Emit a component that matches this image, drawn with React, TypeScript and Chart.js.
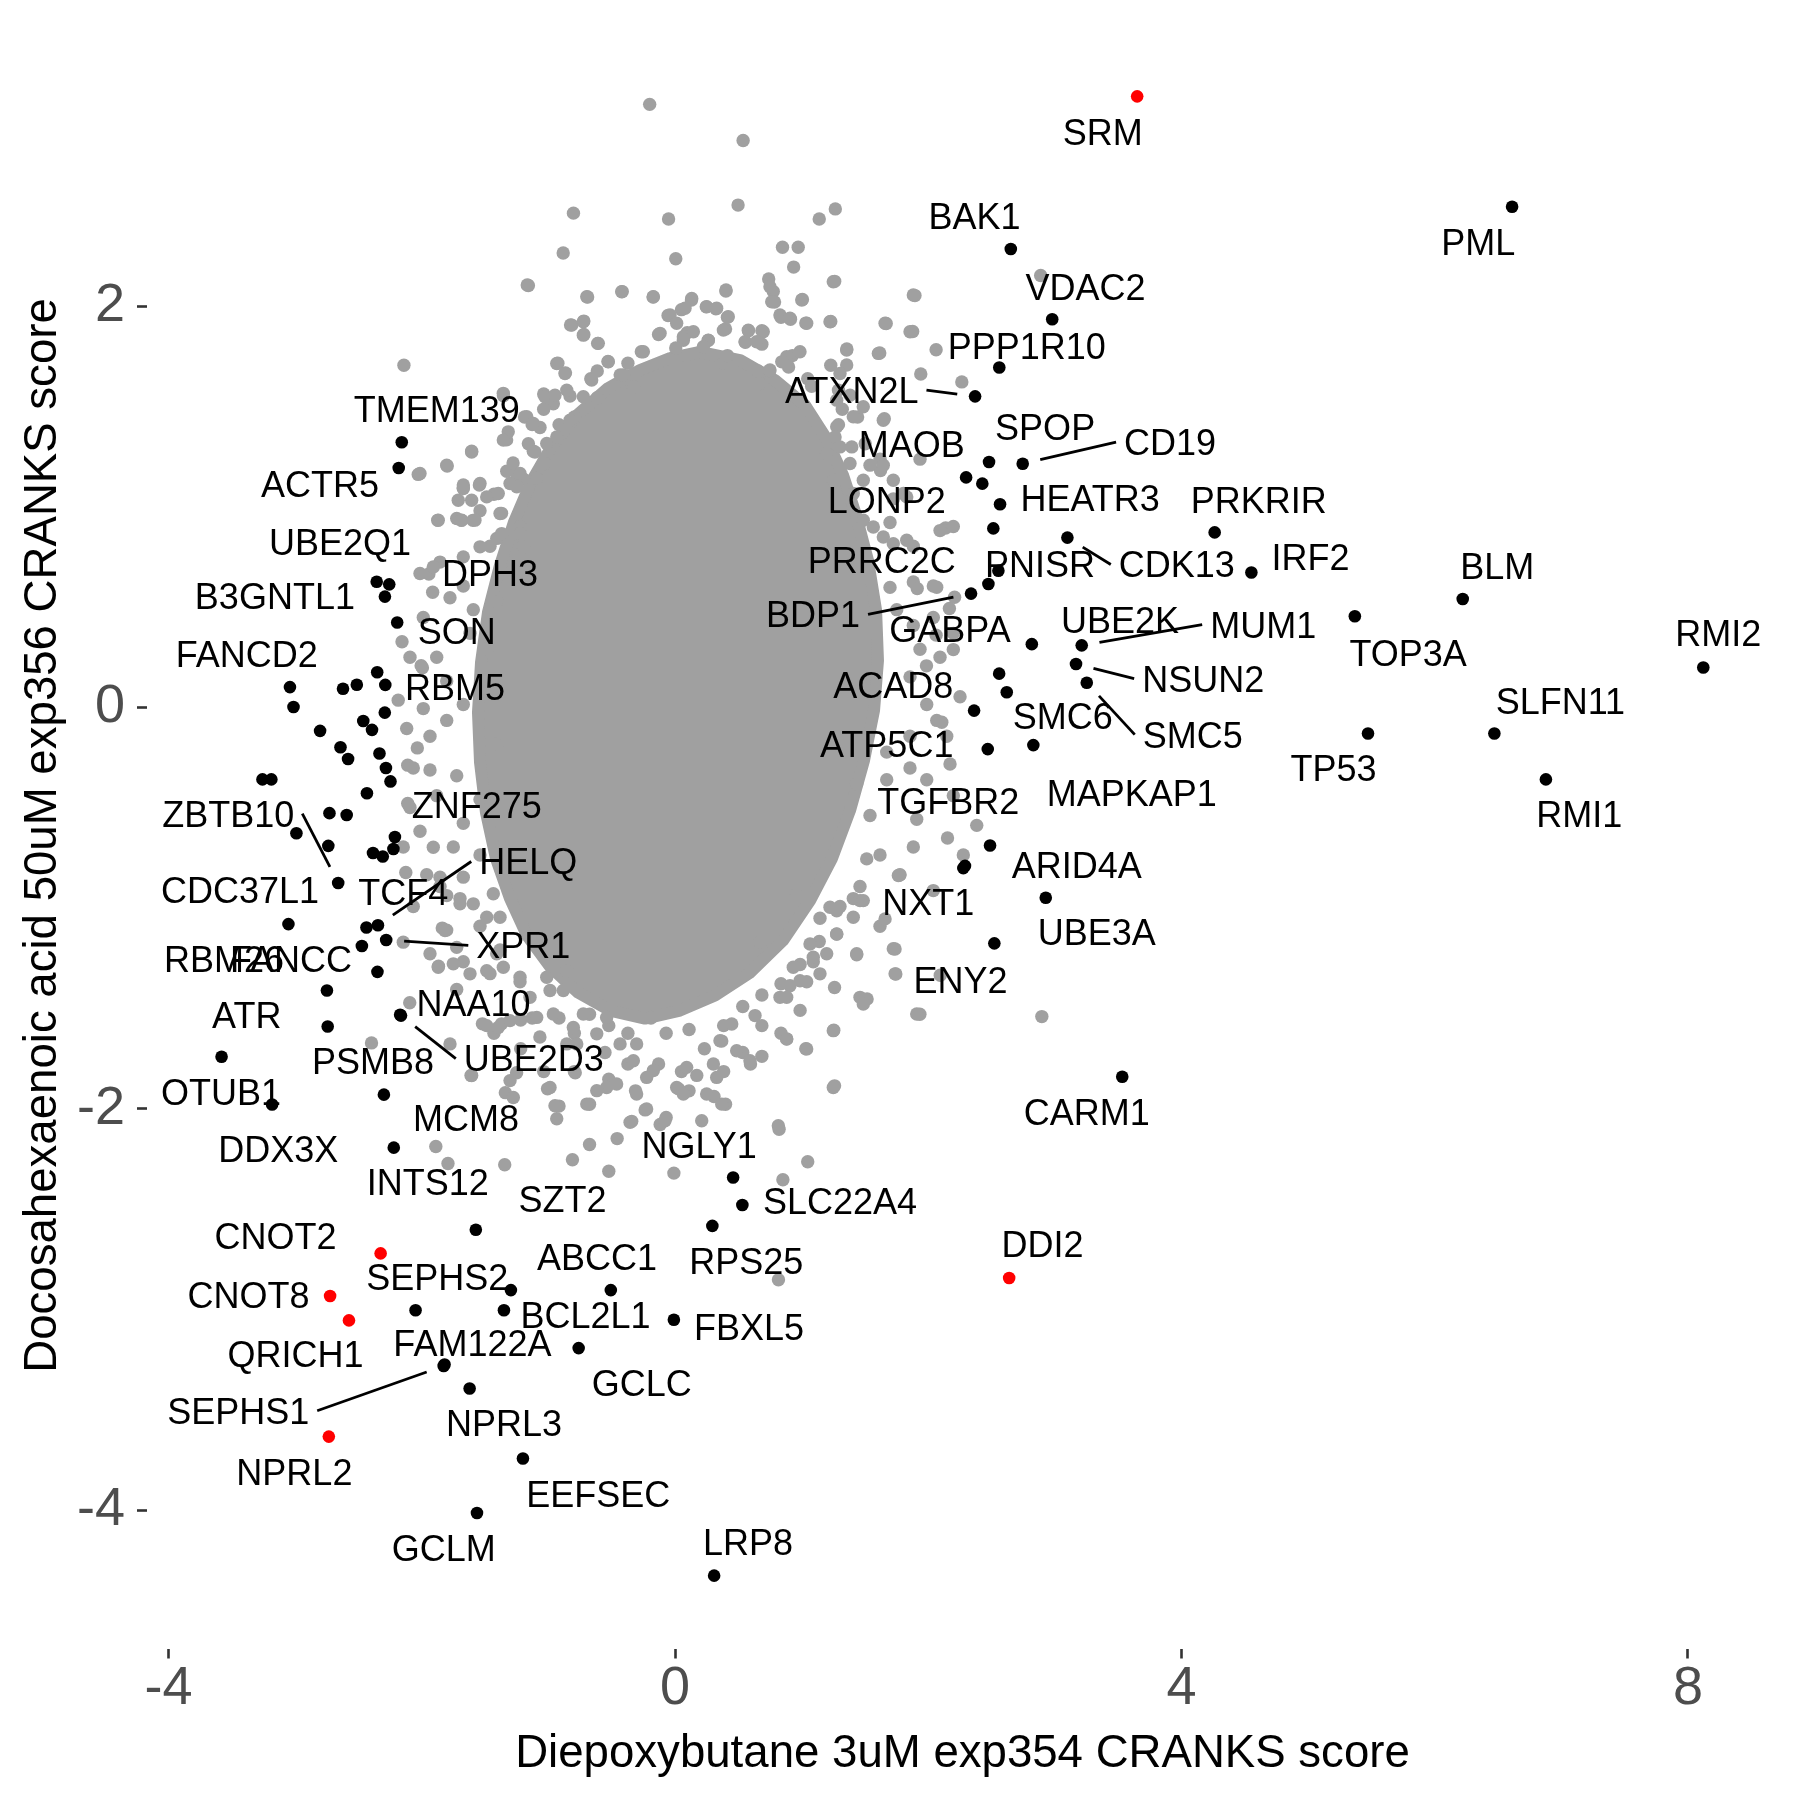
import React, { useEffect, useRef } from 'react';
import { Chart, registerables } from 'chart.js';

Chart.register(...registerables);

const FONT = '"Liberation Sans", Arial, Helvetica, sans-serif';

// ---------- axis ----------
const xTicks = [-4, 0, 4, 8];
const yTicks = [-4, -2, 0, 2];
const xTitle = 'Diepoxybutane 3uM exp354 CRANKS score';
const yTitle = 'Docosahexaenoic acid 50uM exp356 CRANKS score';

// ---------- labelled hits ----------
const hitNames = [
  'SRM', 'PML', 'BAK1', 'VDAC2', 'PPP1R10', 'ATXN2L', 'SPOP', 'CD19', 'MAOB', 'LONP2',
  'HEATR3', 'PRKRIR', 'CDK13', 'IRF2', 'PNISR', 'PRRC2C', 'BDP1', 'GABPA', 'UBE2K', 'MUM1',
  'NSUN2', 'SMC5', 'ACAD8', 'SMC6', 'ATP5C1', 'MAPKAP1', 'TGFBR2', 'ARID4A', 'NXT1', 'UBE3A',
  'ENY2', 'CARM1', 'DDI2', 'TOP3A', 'BLM', 'RMI2', 'SLFN11', 'TP53', 'RMI1', 'TMEM139',
  'ACTR5', 'UBE2Q1', 'B3GNTL1', 'DPH3', 'SON', 'FANCD2', 'RBM5', 'ZNF275', 'ZBTB10', 'CDC37L1',
  'TCF4', 'HELQ', 'XPR1', 'RBM26', 'FANCC', 'ATR', 'PSMB8', 'NAA10', 'UBE2D3', 'OTUB1',
  'MCM8', 'DDX3X', 'INTS12', 'SZT2', 'SEPHS2', 'ABCC1', 'BCL2L1', 'FAM122A', 'GCLC', 'CNOT2',
  'CNOT8', 'QRICH1', 'FBXL5', 'SEPHS1', 'NPRL3', 'NPRL2', 'EEFSEC', 'GCLM', 'LRP8', 'NGLY1',
  'SLC22A4', 'RPS25',
];
const hitX = [
  3.65, 6.611, 2.652, 2.979, 2.561, 2.37, 2.48, 2.746, 2.299, 2.514,
  2.567, 4.262, 3.099, 4.552, 2.554, 2.475, 2.338, 2.56, 2.818, 3.212,
  3.167, 3.252, 2.362, 2.62, 2.47, 2.83, 2.277, 2.488, 2.29, 2.928,
  2.522, 3.532, 2.639, 5.369, 6.221, 8.121, 6.471, 5.473, 6.878, -2.158,
  -2.182, -2.356, -2.291, -2.257, -2.194, -3.041, -2.288, -2.212, -2.66, -3.053,
  -2.437, -2.346, -2.281, -2.749, -2.473, -3.581, -2.743, -2.171, -2.164, -3.182,
  -2.299, -2.221, -1.573, -1.296, -2.049, -0.507, -1.351, -1.82, -0.761, -2.325,
  -2.724, -2.575, -0.009, -1.827, -1.622, -2.734, -1.201, -1.564, 0.309, 0.459,
  0.532, 0.295,
];
const hitY = [
  3.045, 2.495, 2.284, 1.934, 1.694, 1.55, 1.223, 1.214, 1.146, 0.892,
  1.012, 0.872, 0.846, 0.672, 0.681, 0.615, 0.567, 0.168, 0.315, 0.309,
  0.216, 0.123, -0.016, 0.075, -0.208, -0.188, -0.801, -0.688, -0.79, -0.949,
  -1.176, -1.841, -2.844, 0.454, 0.54, 0.199, -0.13, -0.13, -0.359, 1.321,
  1.193, 0.626, 0.552, 0.613, 0.423, 0.101, 0.112, -0.646, -0.875, -1.08,
  -1.097, -1.086, -1.159, -1.411, -1.189, -1.741, -1.59, -1.532, -1.536, -1.979,
  -1.93, -2.194, -2.603, -2.904, -3.004, -2.904, -3.004, -3.275, -3.193, -2.721,
  -2.933, -3.055, -3.052, -3.282, -3.394, -3.634, -3.743, -4.015, -4.327, -2.343,
  -2.48, -2.584,
];
// highlighted (red) hits
const redHits = ['SRM', 'DDI2', 'CNOT2', 'CNOT8', 'QRICH1', 'NPRL2'];

// repelled label anchors (data units) and which labels carry a leader segment
const labelX = [
  3.378, 6.343, 2.366, 3.242, 2.778, 1.396, 2.923, 3.91, 1.87, 1.672,
  3.278, 4.611, 3.963, 5.019, 2.883, 1.633, 1.09, 2.172, 3.515, 4.645,
  4.171, 4.089, 1.724, 3.062, 1.672, 3.607, 2.159, 3.173, 2.001, 3.331,
  2.254, 3.251, 2.902, 5.79, 6.493, 8.239, 6.992, 5.201, 7.141, -1.882,
  -2.804, -2.646, -3.16, -1.461, -1.724, -3.383, -1.738, -1.566, -3.528, -3.436,
  -2.146, -1.159, -1.198, -3.562, -3.033, -3.382, -2.385, -1.591, -1.115, -3.586,
  -1.65, -3.133, -1.953, -0.888, -1.877, -0.616, -0.707, -1.6, -0.262, -3.156,
  -3.368, -2.997, 0.585, -3.45, -1.351, -3.006, -0.607, -1.827, 0.577, 0.191,
  1.303, 0.563,
];
const labelY = [
  2.868, 2.318, 2.447, 2.095, 1.798, 1.581, 1.395, 1.322, 1.312, 1.032,
  1.043, 1.035, 0.712, 0.749, 0.712, 0.733, 0.464, 0.392, 0.433, 0.412,
  0.143, -0.136, 0.112, -0.043, -0.184, -0.425, -0.467, -0.787, -0.969, -1.118,
  -1.358, -2.016, -2.675, 0.271, 0.706, 0.368, 0.033, -0.302, -0.534, 1.486,
  1.114, 0.824, 0.556, 0.669, 0.38, 0.266, 0.101, -0.489, -0.53, -0.913,
  -0.923, -0.768, -1.186, -1.254, -1.254, -1.534, -1.764, -1.472, -1.75, -1.916,
  -2.045, -2.2, -2.366, -2.451, -2.838, -2.738, -3.03, -3.167, -3.368, -2.637,
  -2.927, -3.224, -3.087, -3.505, -3.568, -3.811, -3.92, -4.192, -4.161, -2.18,
  -2.459, -2.761,
];
const segmentLabels = ['ATXN2L', 'CD19', 'CDK13', 'BDP1', 'MUM1', 'NSUN2', 'SMC5', 'ZBTB10', 'HELQ', 'XPR1', 'UBE2D3', 'SEPHS1'];

// ---------- unlabelled hits ----------
const otherHitX = [
  2.427, -3.013, -2.622, -2.513, -2.352, -2.292, -2.462, -2.393, -2.803, -2.642,
  -2.582, -2.334, -2.283, -2.247, -3.258, -3.188, -2.433, -2.729, -2.593, -2.99,
  -2.738, -2.385, -2.308, -2.224, -2.35,
];
const otherHitY = [
  1.115, 0.002, 0.093, 0.113, 0.175, -0.026, -0.068, -0.112, -0.117, -0.199,
  -0.257, -0.23, -0.302, -0.369, -0.359, -0.359, -0.428, -0.527, -0.536, -0.627,
  -0.69, -0.726, -0.743, -0.706, -1.318,
];

// ---------- background genes: outline of the saturated core + scattered genes ----------
const coreOutlineX = [
  0.197, 0.513, 0.79, 1.027, 1.193, 1.327, 1.43, 1.524, 1.588, 1.603,
  1.572, 1.493, 1.382, 1.24, 1.066, 0.853, 0.592, 0.316, 0.039, -0.237,
  -0.513, -0.766, -0.987, -1.169, -1.303, -1.414, -1.493, -1.54, -1.556, -1.532,
  -1.477, -1.382, -1.272, -1.137, -0.972, -0.766, -0.529, -0.276, -0.039, 0.197,
];
const coreOutlineY = [
  1.771, 1.731, 1.631, 1.506, 1.342, 1.157, 0.958, 0.733, 0.484, 0.234,
  -0.015, -0.264, -0.514, -0.753, -0.963, -1.162, -1.322, -1.436, -1.511, -1.551,
  -1.511, -1.421, -1.292, -1.137, -0.953, -0.753, -0.524, -0.274, -0.025, 0.224,
  0.474, 0.708, 0.923, 1.122, 1.302, 1.461, 1.591, 1.681, 1.741, 1.771,
];
const bgX = [
  -0.2, 0.538, 0.498, -0.802, -0.051, 1.266, 1.139, -0.883, 0.006, 0.849,
  0.973, 0.937, -1.158, 1.261, -0.69, -0.417, -0.173, 0.402, 0.74, 0.776,
  1.006, 1.895, 1.668, 1.877, 1.23, 1.033, 2.062, 1.941, 1.357, 1.617,
  -2.141, -0.825, -0.72, -0.72, -0.611, -0.529, -0.925, -0.865, -0.665, -1.606,
  -1.799, -2.028, -1.874, -1.687, -1.596, -1.672, -1.545, -1.43, -1.37, -1.944,
  -1.914, -2.156, -1.995, -1.355, -1.188, -1.33, -1.128, -1.249, -1.092, -1.007,
  1.653, 2.137, 1.698, 2.167, 2.062, 1.986, 1.26, 0.822, 1.048, 0.852,
  -0.009, -0.523, -0.81, -0.675, -0.457, -1.345, -1.793, -1.889, 1.934, 1.254,
  1.517, 1.744, 1.435, 1.738, 1.774, 2.152, 1.033, 0.882, 0.596, 0.369,
  0.399, 0.308, 0.111, 0.027, -0.07, -0.236, -0.342, -0.675, -0.916, -1.007,
  -1.067, -1.34, -1.611, -1.37, -1.219, -1.521, -2.095, -2.397, -1.868, -1.838,
  -2.126, -2.111, -2.035, -2.111, -2.186, -2.005, -1.329, -1.198, -1.119, -1.066,
  -0.961, -0.829, -1.777, -1.593, -2.093, -1.882, -2.119, -1.935, -1.803, -2.067,
  -1.935, -1.724, -2.093, -2.014, -2.146, -1.961, -1.698, -2.067, -1.803, -2.146,
  -1.672, -1.461, -1.224, -1.54, -1.751, -1.54, -1.408, -1.54, -1.487, -1.408,
  -1.277, -1.408, -1.224, 1.619, 1.935, 2.198, 2.093, 1.698, 1.882, 2.04,
  1.751, 1.935, 1.882, 2.093, 2.251, 1.988, 2.067, 1.856, 2.172, 1.856,
  1.672, 1.435, 1.54, 1.909, 2.383, 2.277, 1.777, 1.514, 1.408, 1.277,
  1.145, 1.461, 1.092, 0.908, 0.671, 0.961, 2.265, 2.067, 2.198, 2.107,
  1.461, 1.277, 2.888, 1.913, 2.208, 2.897, 2.095, 0.817, -0.788, -1.251,
  -0.934, -0.117, -0.13, -0.055, 0.051, 0.13, 0.247, 0.323, 0.414, 0.399,
  0.58, 0.686, 0.556, 0.686, 0.837, 0.912, 0.786, 0.096, 0.066, 0.263,
  -0.266, -0.433, 0.006, 0.384, 0.927, 0.897, 0.746, 1.048, 1.23, 1.291,
  -0.795, -1.037, -0.916, -0.614, 1.442, 1.291, -0.675, -0.523, -0.372, -0.19,
  -0.07, 0.111, 0.232, 0.384, 0.535, 0.686, 0.837, -0.13, -0.372, -0.553,
  -0.795, -0.916, -1.128, 0.535, 0.051, 0.988, 1.139,
  -1.672, -1.54, -1.724, -1.461, -1.856, -1.672, -1.988, -1.619, -1.803, -1.672,
  -1.988, -1.882, -1.672, -1.856, -1.54, -1.382, -1.935, -1.724,
  1.724, 1.882, 2.04, 2.198, 1.856, 2.146, 1.672, 1.988, 2.198, 1.882,
  1.619, 1.461, 1.303, 1.619, 1.198, 1.04, 0.829, 2.04,
  -1.43, -1.219, -1.037, -0.795, -0.523, -0.312, 0.172, 0.384, 0.686, 0.837,
  0.988, 0.686, 1.26,
  -0.614, -0.372, -0.855, -1.037, -1.158, -1.279, 1.079, 1.321, 1.502, 1.623,
  1.804, 0.414, 0.656,
];
const bgY = [
  3.005, 2.825, 2.503, 2.463, 2.434, 2.484, 2.434, 2.264, 2.236, 2.293,
  2.293, 2.194, 2.102, 2.123, 2.045, 2.072, 2.045, 2.075, 2.135, 2.072,
  2.033, 2.052, 1.913, 1.873, 1.923, 1.915, 1.782, 1.661, 1.786, 1.766,
  1.705, 1.906, 1.925, 1.858, 1.814, 1.724, 1.715, 1.667, 1.638, 1.276,
  1.203, 1.161, 0.932, 0.932, 0.932, 1.094, 1.108, 1.062, 0.967, 0.665,
  0.574, 0.327, 0.198, 1.553, 1.447, 1.333, 1.409, 1.161, 1.142, 1.543,
  1.438, 0.894, 0.598, 0.493, 0.36, 0.207, -1.886, -2.102, -2.264, -2.354,
  -2.321, -2.312, -2.254, -2.178, -2.149, -2.279, -2.273, -2.188, -1.529, -1.609,
  -1.453, -1.329, -1.233, -1.204, -0.836, -0.651, -1.701, -1.653, -1.777, -1.663,
  -1.978, -1.939, -1.911, -1.901, -2.044, -2.006, -2.063, -1.978, -1.987, -1.901,
  -1.643, -1.92, -1.834, -1.577, -1.558, -1.577, -1.472, -1.672, -1.29, -1.1,
  -0.823, -0.479, -0.202, -0.288, 0.036, 0.208, 1.177, 1.138, 1.276, 1.395,
  1.513, 1.552, 0.546, 0.487, 0.25, 0.25, -0.105, -0.144, -0.065, -0.302,
  -0.312, -0.341, -0.499, -0.617, -0.696, -0.834, -0.953, -0.992, -1.11, -1.17,
  -1.268, -1.327, -1.367, -0.736, -0.696, -0.459, -0.184, 0.053, 0.29, 0.527,
  0.684, 0.842, 0.901, 1.237, 1.237, 0.901, 0.881, 0.921, 0.625, 0.605,
  0.487, 0.29, 0.408, 0.25, 0.053, 0.014, -0.065, -0.144, -0.282, -0.302,
  -0.361, -0.381, -0.539, -0.558, -0.588, -0.736, -0.834, -0.755, -0.953, -1.13,
  -1.051, -1.445, -1.268, -1.387, -1.17, -0.933, 1.622, 0.599, 0.288, -0.074,
  -0.963, -1.014, 2.152, 0.592, 0.549, -1.541, -1.335, -2.852, -1.821, -1.821,
  -2.05, -2.079, 1.858, 1.953, 1.982, 2.03, 1.996, 1.986, 1.944, 1.886,
  1.877, 1.877, 1.819, 1.81, 1.944, 1.934, 2.02, 1.867, 1.829, 1.829,
  1.772, 1.657, 1.791, 1.715, 1.753, 1.696, 1.676, 1.638, 1.705, 1.581,
  1.447, 1.562, 1.409, 1.543, 1.447, 1.409, -1.529, -1.586, -1.624, -1.548,
  -1.624, -1.605, -1.701, -1.586, -1.491, -1.433, -1.377, -1.777, -1.777, -1.72,
  -1.624, -1.548, -1.548, -1.72, -1.815, -1.281, -1.167,
  1.108, 0.98, 0.941, 0.803, 0.724, 0.605, 0.448, 0.369, 0.132, 0.014,
  -0.006, -0.44, -0.578, -0.893, -1.091, -1.209, -1.228, -1.406,
  1.039, 0.803, 0.448, 0.369, 0.152, -0.144, -0.223, -0.361, -0.44, -0.696,
  -0.736, -0.893, -0.992, -1.091, -1.228, -1.367, -1.445, -0.913,
  -1.624, -1.701, -1.815, -1.815, -1.853, -1.911, -1.834, -1.815, -1.739, -1.624,
  -1.51, -1.586, -1.396,
  1.676, 1.715, 1.581, 1.486, 1.314, 1.218, 1.6, 1.486, 1.314, 1.18,
  1.066, 1.753, 1.676,
];
// genes crowding the upper and lower edges of the core
const edgeX = [
  -1.167, -0.697, -0.421, -0.171, 0.132, 0.079, 0.25, 0.329, 0.403, 0.421,
  0.382, -0.039, 0.013, -0.118, 0.066, 0.145, 0.263, 0.224, -0.816, -0.724,
  -0.724, -0.606, -0.527, -0.25, -0.934, -0.869, -0.658, -0.408, -0.329, -0.724,
  -1.027, -0.948, -1.356, -1.171, -1.119, -0.829, -1.317, -1.356, -1.606, -1.803,
  -2.014, -1.106, -1.013, -0.934, -1.027, -1.224, -1.303, -1.092, -1.54, -1.672,
  -1.712, -1.606, -1.487, -1.396, -1.25, -1.87, -1.685, -1.58, -1.382, -1.369,
  -1.224, -1.198, -1.54, -1.672, -1.909, -2.014,
  0.75, 0.764, 0.829, 0.908, 1.001, 1.04, 1.224, 1.25, 1.659, 1.882,
  1.856, 0.579, 0.697, 0.645, 0.553, 1.356, 1.606, 0.987, 0.882, 0.843,
  1.356, 1.303, 0.75, 0.671, 1.382, 1.487, 1.277, 1.645, 1.408, 1.277,
  1.264, 1.396, 1.303, 1.198, 1.382, 1.54, 1.645, 1.724, 1.83, 1.487,
  1.25, 1.408, 1.487, 1.566, 1.645, 1.724, 1.83,
  1.764, 1.659, 1.724, 1.738, 1.909, 1.487, 1.408, 1.435, 1.277, 1.224,
  1.145, 1.092, 1.066, 0.934, 0.987, 0.882, 1.487, 1.25, 0.882, 1.04,
  1.25, 0.816, 0.632, 0.592, 0.487, 0.448, 0.355, 0.303, 0.329, 0.25,
  0.369, 0.211, 0.092, 0.013, 0.066, -0.079, -0.171, -0.224, -0.224, -0.355,
  -0.303, -0.461, -0.54, -0.618, -0.697, -0.329, -0.434, -0.303, -0.54, -0.618,
  -0.724, -0.803, -0.855, -0.776, -0.987, -0.948, -1.303, -1.277, -1.606, -1.487,
  -1.396, -1.303, -1.092, -0.961, -1.145, -0.987, -0.882, -1.013, -0.855, -1.356,
  -1.224, -1.487, -1.619, -1.751, -1.87, -1.777, -1.593, -1.698, -1.803, -1.856,
  -1.672, -1.909, -1.817, -1.724, -1.408, -1.382, -1.487, -1.435,
];
const edgeY = [
  2.105, 2.046, 2.071, 2.046, 2.038, 1.989, 1.997, 1.989, 2.08, 1.947,
  1.88, 1.955, 1.914, 1.864, 1.847, 1.872, 1.83, 1.797, 1.905, 1.922,
  1.855, 1.814, 1.722, 1.772, 1.714, 1.664, 1.631, 1.656, 1.598, 1.548,
  1.548, 1.556, 1.565, 1.448, 1.415, 1.431, 1.373, 1.332, 1.273, 1.207,
  1.166, 1.273, 1.315, 1.348, 1.215, 1.166, 1.116, 1.141, 1.116, 1.091,
  1.032, 1.032, 1.049, 1.066, 1.099, 0.933, 0.933, 0.933, 0.966, 0.866,
  0.866, 0.8, 0.8, 0.75, 0.7, 0.667,
  2.096, 2.021, 1.955, 1.939, 2.03, 1.914, 1.922, 2.121, 1.914, 2.055,
  1.872, 1.88, 1.872, 1.822, 1.822, 1.781, 1.764, 1.772, 1.747, 1.722,
  1.706, 1.664, 1.681, 1.614, 1.556, 1.498, 1.531, 1.431, 1.448, 1.398,
  1.348, 1.298, 1.298, 1.265, 1.215, 1.207, 1.207, 1.132, 1.049, 1.132,
  1.132, 1.066, 0.933, 0.899, 0.849, 0.816, 0.833,
  -0.838, -1.054, -1.203, -1.328, -1.528, -0.963, -1.046, -1.228, -1.129, -0.996,
  -1.328, -1.245, -1.179, -1.295, -1.362, -1.445, -1.478, -1.611, -1.652, -1.702,
  -1.894, -2.085, -1.536, -1.761, -1.711, -1.578, -1.661, -1.777, -1.844, -1.927,
  -1.977, -2.06, -1.794, -1.894, -1.927, -2.06, -1.81, -1.844, -2.001, -2.068,
  -1.927, -1.877, -1.894, -1.91, -1.977, -1.761, -1.677, -1.677, -1.545, -1.627,
  -1.528, -1.595, -1.677, -1.677, -1.894, -1.985, -1.86, -1.944, -1.835, -1.586,
  -1.595, -1.561, -1.545, -1.528, -1.445, -1.411, -1.411, -1.345, -1.312, -1.295,
  -1.345, -1.312, -1.328, -1.278, -1.295, -1.677, -0.979, -0.979, -0.938, -0.846,
  -0.846, -0.697, -1.112, -1.196, -1.228, -1.046, -1.046, -0.929,
];

const GREY = '#A0A0A0';

const pts = (xs: number[], ys: number[]) => xs.map((x, i) => ({ x, y: ys[i] }));

const zeroPadding = (s: any) => {
  s.paddingTop = 0;
  s.paddingBottom = 0;
  s.paddingLeft = 0;
  s.paddingRight = 0;
};

export default function App() {
  const ref = useRef<HTMLCanvasElement>(null);

  useEffect(() => {
    const canvas = ref.current;
    if (!canvas) return;

    const redIdx = hitNames.map((n, i) => (redHits.includes(n) ? i : -1)).filter((i) => i >= 0);
    const blackIdx = hitNames.map((n, i) => (redHits.includes(n) ? -1 : i)).filter((i) => i >= 0);

    const labelPlugin = {
      id: 'repelLabels',
      afterDatasetsDraw(chart: any) {
        const ctx = chart.ctx as CanvasRenderingContext2D;
        const xs = chart.scales.x;
        const ys = chart.scales.y;
        const size = 36;
        const cap = 0.716 * size;
        ctx.save();
        ctx.font = `${size}px ${FONT}`;
        ctx.textAlign = 'center';
        ctx.textBaseline = 'alphabetic';
        ctx.strokeStyle = '#000';
        ctx.fillStyle = '#000';
        ctx.lineWidth = 2.8;
        hitNames.forEach((name, i) => {
          const px = xs.getPixelForValue(hitX[i]);
          const py = ys.getPixelForValue(hitY[i]);
          const lx = xs.getPixelForValue(labelX[i]);
          const ly = ys.getPixelForValue(labelY[i]);
          if (segmentLabels.includes(name)) {
            const w = ctx.measureText(name).width;
            let sx: number;
            let sy: number;
            if (px > lx + w / 2) { sx = lx + w / 2 + 8; sy = ly; }
            else if (px < lx - w / 2) { sx = lx - w / 2 - 8; sy = ly; }
            else { sx = px; sy = py > ly ? ly + cap / 2 + 8 : ly - cap / 2 - 8; }
            const dx = px - sx;
            const dy = py - sy;
            const d = Math.hypot(dx, dy);
            if (d > 20) {
              ctx.beginPath();
              ctx.moveTo(sx, sy);
              ctx.lineTo(px - (dx / d) * 18, py - (dy / d) * 18);
              ctx.stroke();
            }
          }
          ctx.fillText(name, lx, ly + cap / 2);
        });
        ctx.restore();
      },
    };

    const titlePlugin = {
      id: 'axisTitles',
      afterDraw(chart: any) {
        const ctx = chart.ctx as CanvasRenderingContext2D;
        const area = chart.chartArea;
        ctx.save();
        ctx.fillStyle = '#000';
        ctx.font = `45.6px ${FONT}`;
        ctx.textAlign = 'center';
        ctx.textBaseline = 'alphabetic';
        ctx.fillText(xTitle, (area.left + area.right) / 2, 1767);
        ctx.translate(56, (area.top + area.bottom) / 2);
        ctx.rotate(-Math.PI / 2);
        ctx.fillText(yTitle, 0, 0);
        ctx.restore();
      },
    };

    const tickFont = { size: 54, family: FONT, lineHeight: 1 };

    const chart = new Chart(canvas, {
      type: 'scatter',
      data: {
        datasets: [
          {
            label: 'hits (highlighted)',
            data: redIdx.map((i) => ({ x: hitX[i], y: hitY[i] })),
            backgroundColor: '#FF0000',
            borderWidth: 0,
            pointRadius: 6.3,
            order: 1,
          },
          {
            label: 'hits',
            data: [
              ...blackIdx.map((i) => ({ x: hitX[i], y: hitY[i] })),
              ...pts(otherHitX, otherHitY),
            ],
            backgroundColor: '#000000',
            borderWidth: 0,
            pointRadius: 6.3,
            order: 2,
          },
          {
            label: 'genes',
            data: [...pts(bgX, bgY), ...pts(edgeX, edgeY)],
            backgroundColor: GREY,
            borderWidth: 0,
            pointRadius: 6.7,
            order: 3,
          },
          {
            type: 'line',
            label: 'genes (saturated core)',
            data: pts(coreOutlineX, coreOutlineY),
            showLine: true,
            fill: 'shape',
            backgroundColor: GREY,
            borderColor: GREY,
            borderWidth: 12,
            borderJoinStyle: 'round',
            pointRadius: 0,
            tension: 0,
            order: 4,
          } as any,
        ],
      },
      options: {
        responsive: false,
        animation: false,
        devicePixelRatio: 1,
        events: [],
        layout: { padding: { top: 22.5, right: 22, bottom: 0, left: 0 } },
        plugins: {
          legend: { display: false },
          tooltip: { enabled: false },
        },
        scales: {
          x: {
            type: 'linear',
            min: -4.17,
            max: 8.711,
            afterBuildTicks: (s: any) => { s.ticks = xTicks.map((v) => ({ value: v })); },
            afterFit: (s: any) => { s.height = 151.5; zeroPadding(s); },
            grid: { display: true, drawOnChartArea: false, drawTicks: true, tickLength: 10, tickColor: '#333333', tickWidth: 2.6 },
            border: { display: false },
            ticks: {
              font: tickFont,
              color: '#4D4D4D',
              padding: 4,
              maxRotation: 0,
              autoSkip: false,
              callback: (v: any) => String(v),
            },
          },
          y: {
            type: 'linear',
            min: -4.69,
            max: 3.413,
            afterBuildTicks: (s: any) => { s.ticks = yTicks.map((v) => ({ value: v })); },
            afterFit: (s: any) => { s.width = 147; zeroPadding(s); },
            grid: { display: true, drawOnChartArea: false, drawTicks: true, tickLength: 10, tickColor: '#333333', tickWidth: 2.6 },
            border: { display: false },
            ticks: {
              font: tickFont,
              color: '#4D4D4D',
              padding: 12,
              autoSkip: false,
              callback: (v: any) => String(v),
            },
          },
        },
      },
      plugins: [labelPlugin, titlePlugin],
    } as any);

    return () => chart.destroy();
  }, []);

  return (
    <div style={{ position: 'absolute', left: 0, top: 0, width: 1800, height: 1800, background: '#fff' }}>
      <canvas ref={ref} width={1800} height={1800} style={{ width: 1800, height: 1800, display: 'block' }} />
    </div>
  );
}
